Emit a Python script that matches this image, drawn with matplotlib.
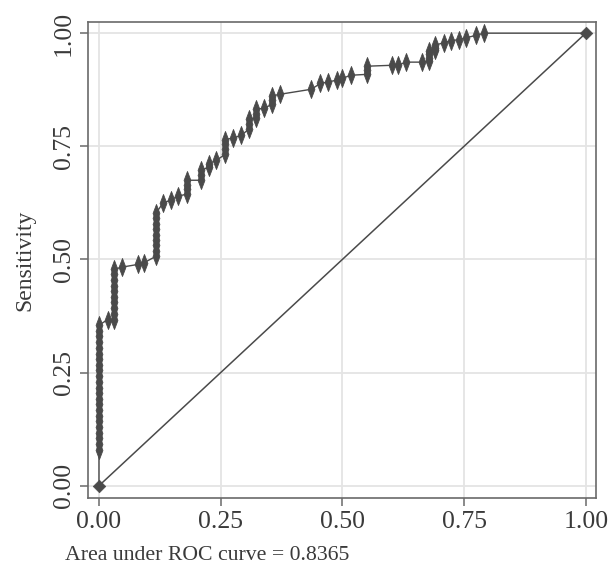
import matplotlib
matplotlib.use('Agg')
import matplotlib.pyplot as plt
from matplotlib.path import Path

# ROC points (1 - specificity, sensitivity)
fpr = [0.000,
       0.000, 0.000, 0.000, 0.000, 0.000, 0.000, 0.000, 0.000, 0.000, 0.000, 0.000, 0.000,
       0.000, 0.000, 0.000, 0.000, 0.000, 0.000, 0.000, 0.000, 0.000, 0.000, 0.000,
       0.018,
       0.031, 0.031, 0.031, 0.031, 0.031, 0.031, 0.031, 0.031, 0.031, 0.031,
       0.047, 0.080, 0.093,
       0.117, 0.117, 0.117, 0.117, 0.117, 0.117, 0.117, 0.117, 0.117,
       0.131, 0.147, 0.162,
       0.180, 0.180, 0.180, 0.180,
       0.210, 0.210, 0.210,
       0.226, 0.226, 0.241,
       0.259, 0.259, 0.259, 0.259,
       0.275, 0.292,
       0.308, 0.308, 0.308,
       0.322, 0.322, 0.322,
       0.340,
       0.355, 0.355, 0.355,
       0.372, 0.436, 0.455, 0.470, 0.488, 0.500, 0.517,
       0.551, 0.551, 0.551,
       0.601, 0.615, 0.630, 0.663,
       0.679, 0.679, 0.679, 0.679,
       0.690, 0.690, 0.690,
       0.708, 0.723, 0.739, 0.755, 0.774, 0.791,
       1.000]
tpr = [0.000,
       0.080, 0.092, 0.105, 0.117, 0.130, 0.142, 0.155, 0.167, 0.180, 0.192, 0.205, 0.217,
       0.230, 0.242, 0.255, 0.267, 0.280, 0.292, 0.305, 0.317, 0.330, 0.342, 0.355,
       0.367,
       0.367, 0.380, 0.392, 0.405, 0.417, 0.430, 0.442, 0.455, 0.467, 0.478,
       0.483, 0.489, 0.493,
       0.507, 0.519, 0.531, 0.543, 0.555, 0.567, 0.579, 0.591, 0.602,
       0.624, 0.631, 0.640,
       0.644, 0.655, 0.665, 0.675,
       0.675, 0.686, 0.697,
       0.704, 0.712, 0.719,
       0.732, 0.743, 0.754, 0.765,
       0.768, 0.774,
       0.788, 0.799, 0.810,
       0.812, 0.822, 0.832,
       0.834,
       0.843, 0.852, 0.861,
       0.865, 0.876, 0.889, 0.892, 0.896, 0.900, 0.907,
       0.909, 0.918, 0.927,
       0.929, 0.929, 0.936, 0.936,
       0.938, 0.946, 0.954, 0.960,
       0.962, 0.968, 0.973,
       0.979, 0.983, 0.986, 0.990, 0.995, 1.000,
       1.000]
auc = 0.8365
ticks = [0.00, 0.25, 0.50, 0.75, 1.00]

plt.rcParams['font.family'] = ['Liberation Serif', 'DejaVu Serif']
dark = '#4a4a4a'
txt = '#3a3a3a'

# tall narrow diamond, like Stata's marker here
thin_diamond = Path([(0, 1), (0.38, 0), (0, -1), (-0.38, 0), (0, 1)],
                    [Path.MOVETO, Path.LINETO, Path.LINETO, Path.LINETO, Path.CLOSEPOLY])
diamond = Path([(0, 1), (1, 0), (0, -1), (-1, 0), (0, 1)],
               [Path.MOVETO, Path.LINETO, Path.LINETO, Path.LINETO, Path.CLOSEPOLY])

fig = plt.figure(figsize=(6.13, 5.75), dpi=100)
ax = fig.add_axes([0.144, 0.134, 0.829, 0.828])

ax.plot([0, 1], [0, 1], color=dark, lw=1.1, zorder=2)
ax.plot(fpr, tpr, color=dark, lw=1.0, zorder=3)
ax.plot(fpr[1:-1], tpr[1:-1], ls='none', marker=thin_diamond, ms=13,
        color=dark, mec=dark, mew=0.6, zorder=4)
ax.plot([fpr[0], fpr[-1]], [tpr[0], tpr[-1]], ls='none', marker=diamond, ms=9,
        color=dark, mec=dark, mew=0.5, zorder=4)

ax.set_xlim(-0.022, 1.022)
ax.set_ylim(-0.027, 1.025)
ax.set_xticks(ticks)
ax.set_yticks(ticks)
ax.set_xticklabels(['%.2f' % t for t in ticks])
ax.set_yticklabels(['%.2f' % t for t in ticks], rotation=90, va='center')
ax.grid(True, color='#e4e4e4', lw=1.3)
ax.set_axisbelow(True)
for s in ax.spines.values():
    s.set_color('#6a6a6a')
    s.set_linewidth(1.2)
ax.tick_params(axis='both', length=5.5, width=1.1, color='#6a6a6a',
               labelsize=18.5, labelcolor=txt, pad=4)
ax.set_ylabel('Sensitivity', fontsize=17, color=txt, labelpad=13)

fig.text(65 / 613, 1 - 555 / 575, 'Area under ROC curve = %.4f' % auc,
         fontsize=15.7, color=txt, ha='left', va='center')

fig.savefig('out.png', dpi=100)
